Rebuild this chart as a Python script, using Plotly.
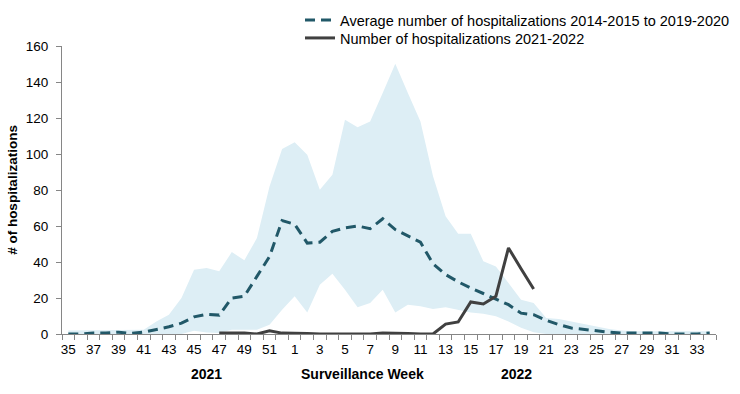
import plotly.graph_objects as go

weeks = [str(w) for w in list(range(35, 53)) + list(range(1, 35))]

avg_hosp = [0, 0, 0.5, 0.5, 1, 0.3, 1, 2.5, 4, 6, 9.5, 11, 10.5, 20, 21, 32, 43, 63,
            61, 50.5, 51, 57, 59, 60, 58.5, 64, 58, 54.5, 51, 39, 33, 29, 25.5, 22.5,
            19.5, 16.3, 11.6, 10.7, 7.6, 5.2, 3.3, 2.7, 1.8, 1, 0.5, 0.5, 0.5, 0.5,
            0, 0, 0, 0.5]

band_upper = [2, 2, 2, 2, 2, 2, 2.4, 7, 10.7, 20, 35.7, 36.6, 34.8, 45.5, 41, 53.3, 82, 102.8,
              106.5, 99.6, 80.2, 88.5, 119, 114.8, 118, 133.9, 150.2, 133.9, 118, 87.6, 65.4,
              55.7, 55.7, 40.4, 37.5, 28.3, 19, 17.2, 8.9, 8.3, 7, 5.6, 4.2, 2.8, 2,
              1.5, 1.5, 1.5, 1.5, 1.5, 1.5, 1.5]

band_lower = [0, 0, 0, 0, 0, 0, 0, 0, 0, 0, 1.8, 0.9, 0.5, 2.4, 2.4, 2.4, 5.2, 13.5,
              21, 12, 27.4, 33.5, 24.6, 14.8, 17.2, 24.6, 12, 16.3, 15.4, 13.9, 14.8,
              13.5, 12, 11.3, 9.8, 7, 3.5, 1, 0, 0, 0, 0, 0, 0, 0,
              0, 0, 0, 0, 0, 0, 0]

current_weeks = [str(w) for w in list(range(47, 53)) + list(range(1, 21))]
current_hosp = [0.5, 0.5, 0.5, 0, 1.8, 0.5, 0.5, 0.3, 0, 0, 0, 0, 0, 0.5, 0.5, 0.3, 0, 0,
                5.5, 6.7, 17.8, 16.7, 21, 47.8, 36.3, 25]

tick_text = [w if i % 2 == 0 else "" for i, w in enumerate(weeks)]

FONT = "Liberation Sans, Arial, sans-serif"

fig = go.Figure()
fig.add_trace(go.Scatter(x=weeks, y=band_lower, mode="lines", line=dict(width=0),
                         showlegend=False, hoverinfo="skip"))
fig.add_trace(go.Scatter(x=weeks, y=band_upper, mode="lines", line=dict(width=0),
                         fill="tonexty", fillcolor="#DDEEF5", showlegend=False,
                         hoverinfo="skip"))
fig.add_trace(go.Scatter(x=weeks, y=avg_hosp, mode="lines", legend="legend",
                         name="Average number of hospitalizations 2014-2015 to 2019-2020",
                         line=dict(color="#215868", width=3, dash="10px,6px")))
fig.add_trace(go.Scatter(x=current_weeks, y=current_hosp, mode="lines", legend="legend2",
                         name="Number of hospitalizations 2021-2022",
                         line=dict(color="#404040", width=3)))

leg_common = dict(xref="paper", yref="container", xanchor="left", yanchor="middle",
                  font=dict(size=14.5), itemwidth=30, bgcolor="rgba(0,0,0,0)")

fig.update_layout(
    width=740, height=394,
    margin=dict(l=62, r=24, t=46, b=60, autoexpand=False),
    paper_bgcolor="white", plot_bgcolor="white",
    font=dict(family=FONT, size=13, color="black"),
    legend=dict(x=(300 - 62) / 654, y=1 - 20 / 394, **leg_common),
    legend2=dict(x=(300 - 62) / 654, y=1 - 38 / 394, **leg_common),
    xaxis=dict(type="category", categoryorder="array", categoryarray=weeks,
               tickmode="array", tickvals=weeks, ticktext=tick_text,
               tickson="boundaries", ticks="outside", ticklen=5, tickangle=0,
               tickcolor="#868686", showline=True, linecolor="#868686",
               showgrid=False, zeroline=False, range=[-0.5, 51.5],
               tickfont=dict(size=13.5), automargin=False, ticklabelstandoff=3),
    yaxis=dict(range=[0, 160], dtick=20, ticks="outside", ticklen=5,
               tickcolor="#868686", showline=True, linecolor="#868686",
               showgrid=False, zeroline=False, tickfont=dict(size=13.5),
               automargin=False, ticklabelstandoff=5,
               title=dict(text="<b># of hospitalizations</b>", standoff=5,
                          font=dict(size=13.5))),
    annotations=[
        dict(text="<b>2021</b>", x=(206 - 62) / 654, y=-40 / 288, xref="paper",
             yref="paper", xanchor="center", yanchor="middle", showarrow=False,
             font=dict(size=14)),
        dict(text="<b>Surveillance Week</b>", x=(362 - 62) / 654, y=-40 / 288,
             xref="paper", yref="paper", xanchor="center", yanchor="middle",
             showarrow=False, font=dict(size=14)),
        dict(text="<b>2022</b>", x=(516 - 62) / 654, y=-40 / 288, xref="paper",
             yref="paper", xanchor="center", yanchor="middle", showarrow=False,
             font=dict(size=14)),
    ],
)

fig.write_html("out.html", config={"displayModeBar": False},
               post_script="document.body.style.margin='0px';")
